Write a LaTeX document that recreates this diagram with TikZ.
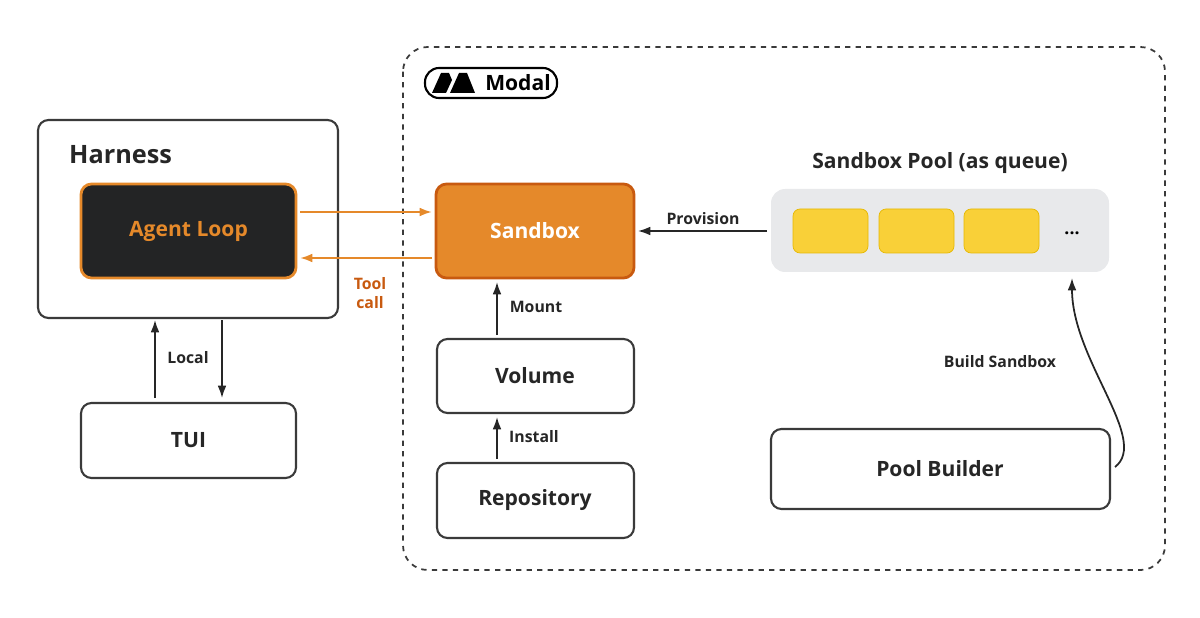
\documentclass[tikz,border=0pt]{standalone}
\usepackage{fontspec}
\setmainfont{Open Sans}
\usetikzlibrary{arrows.meta}
\definecolor{darkline}{HTML}{3A3A3A}
\definecolor{orangefill}{HTML}{E5892A}
\definecolor{orangeline}{HTML}{C85A10}
\definecolor{agentfill}{HTML}{232425}
\definecolor{poolfill}{HTML}{E8E9EB}
\definecolor{slotfill}{HTML}{F9D038}
\definecolor{slotline}{HTML}{E6B800}
\tikzset{
    box/.style={draw=darkline, line width=1.2pt, rounded corners=6pt,
        fill=white, font=\bfseries\large, text=black!85},
    slot/.style={draw=slotline, fill=slotfill, rounded corners=4pt},
    lbl/.style={font=\bfseries\small, text=black!85},
    arr/.style={-{Latex[length=7pt,width=5pt]}, line width=1pt, draw=black!85},
    oarr/.style={-{Latex[length=7pt,width=5pt]}, line width=1.2pt, draw=orangefill}
}
\begin{document}
\begin{tikzpicture}[x=0.02cm, y=-0.02cm]
    \useasboundingbox (0,0) rectangle (1200,618);

    %Modal Rahmen
    \draw[dashed, darkline, line width=1pt, rounded corners=14pt]
        (403,47) rectangle (1165,570);
    \draw[line width=1.2pt, rounded corners=8pt] (425,68) rectangle (557,98);
    \fill[black] (432,93) -- (441,73) -- (449,73) -- (452,80) -- (446,93) -- cycle;
    \fill[black] (450,93) -- (459,73) -- (467,73) -- (475,93) -- (463,93) -- cycle;
    \node[font=\bfseries\large] (logo) at (518,83) {Modal};

    %Harness
    \draw[box] (38,120) rectangle (338,318);
    \node[font=\bfseries\Large, text=black!85, anchor=west] (harness) at (63,155) {Harness};
    \draw[draw=orangefill, fill=agentfill, line width=1.6pt, rounded corners=6pt]
        (81,184) rectangle (296,278);
    \node[font=\bfseries\large, text=orangefill] (agent) at (188.5,231) {Agent Loop};
    \draw[box] (81,403) rectangle (296,478);
    \node[font=\bfseries\large, text=black!85] (tui) at (188.5,440) {TUI};
    \coordinate (tuiL) at (155,398);
    \coordinate (harL) at (155,320);
    \coordinate (tuiR) at (222,398);
    \coordinate (harR) at (222,320);
    \draw[arr] (tuiL) -- (harL);
    \draw[arr] (harR) -- (tuiR);
    \node[lbl] (local) at (188,358) {Local};

    %Sandbox
    \draw[draw=orangeline, fill=orangefill, line width=1.6pt, rounded corners=6pt]
        (436,184) rectangle (634,278);
    \node[font=\bfseries\large, text=white] (sandbox) at (535,231) {Sandbox};
    \coordinate (aOut) at (300,212);
    \coordinate (sIn) at (432,212);
    \coordinate (sOut) at (432,258);
    \coordinate (aIn) at (300,258);
    \draw[oarr] (aOut) -- (sIn);
    \draw[oarr] (sOut) -- (aIn);
    \node[lbl, text=orangeline, align=center, inner sep=0pt] (tool) at (370,293)
        {Tool\\call};

    \draw[box] (437,339) rectangle (634,413);
    \node[font=\bfseries\large, text=black!85] (volume) at (535,376) {Volume};
    \draw[box] (437,463) rectangle (634,538);
    \node[font=\bfseries\large, text=black!85] (repo) at (535,500) {Repository};
    \coordinate (volT) at (497,335);
    \coordinate (sbB) at (497,282);
    \coordinate (repT) at (497,459);
    \coordinate (volB) at (497,417);
    \draw[arr] (volT) -- (sbB);
    \draw[arr] (repT) -- (volB);
    \node[lbl] (mount) at (536,307) {Mount};
    \node[lbl] (install) at (534,437) {Install};

    %Pool
    \node[font=\bfseries\large, text=black!85] (pooltitle) at (940,163)
        {Sandbox Pool (as queue)};
    \fill[poolfill, rounded corners=8pt] (771,189) rectangle (1109,272);
    \foreach \x in {793,879,964}
        \draw[slot] (\x,209) rectangle ++(75,44);
    \node[font=\bfseries] (dots) at (1072,233) {...};
    \coordinate (poolL) at (767,231);
    \coordinate (sbR) at (638,231);
    \draw[arr] (poolL) -- (sbR);
    \node[lbl] (prov) at (703,219) {Provision};

    \draw[box] (771,429) rectangle (1110,509);
    \node[font=\bfseries\large, text=black!85] (builder) at (940,469) {Pool Builder};
    \coordinate (bStart) at (1115,467);
    \coordinate (poolB) at (1072,278);
    \draw[arr] (bStart) .. controls (1150,440) and (1072,360) .. (poolB);
    \node[lbl] (build) at (1000,362) {Build Sandbox};
\end{tikzpicture}
\end{document}
